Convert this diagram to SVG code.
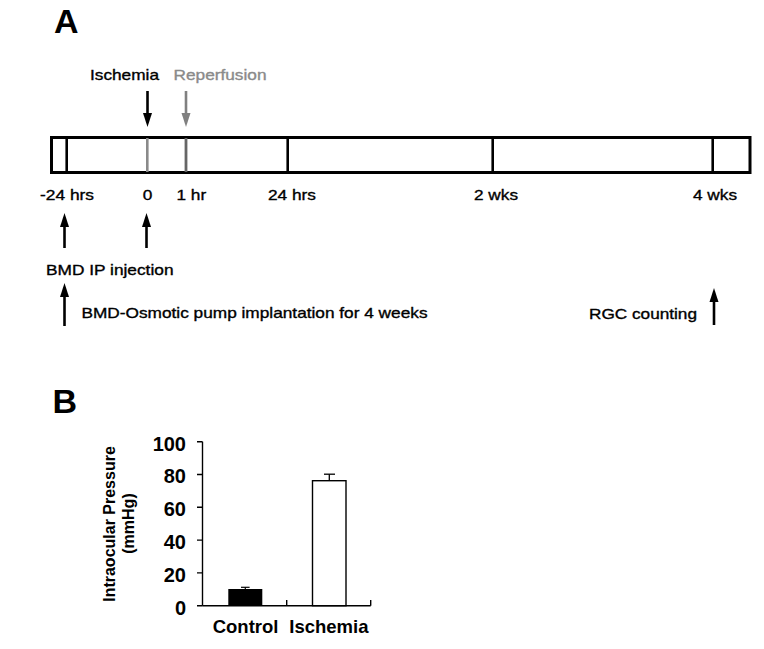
<svg xmlns="http://www.w3.org/2000/svg" width="764" height="649" viewBox="0 0 764 649">
<style>
text{font-family:"Liberation Sans",Arial,sans-serif;fill:#000}
.lbl{font-size:15px;stroke:#000;stroke-width:0.35}
.gray{fill:#8a8a8a;stroke:#8a8a8a}
.bold{font-weight:bold}
.tick{font-size:20px;font-weight:bold;text-anchor:end}
.ax{stroke:#000;stroke-width:1.4;fill:none}
.tl{stroke:#000;stroke-width:2.6}
.shaft{stroke:#000;stroke-width:2.6}
</style>
<defs>
<polygon id="headDown" points="-4.5,0 4.5,0 0,14"/>
<polygon id="headUp" points="-4.5,0 4.5,0 0,-14"/>
</defs>
<rect width="764" height="649" fill="#fff"/>

<g id="panelA">
<text class="bold" x="54" y="33" font-size="34">A</text>

<g id="timeline">
<rect x="51.5" y="137.5" width="698.5" height="35" fill="#fff" stroke="#000" stroke-width="3"/>
<line class="tl" x1="66.7" y1="138" x2="66.7" y2="172"/>
<line x1="147.3" y1="138" x2="147.3" y2="172" stroke="#8a8a8a" stroke-width="2.6"/>
<line x1="186" y1="138" x2="186" y2="172" stroke="#666" stroke-width="2.8"/>
<line class="tl" x1="287.7" y1="138" x2="287.7" y2="172"/>
<line class="tl" x1="492.7" y1="138" x2="492.7" y2="172"/>
<line class="tl" x1="712.7" y1="138" x2="712.7" y2="172"/>
</g>

<g id="time-labels" class="lbl">
<text x="40" y="200" textLength="54" lengthAdjust="spacingAndGlyphs">-24 hrs</text>
<text x="142.7" y="200" textLength="9.6" lengthAdjust="spacingAndGlyphs">0</text>
<text x="176.5" y="200" textLength="29.7" lengthAdjust="spacingAndGlyphs">1 hr</text>
<text x="268" y="200" textLength="48" lengthAdjust="spacingAndGlyphs">24 hrs</text>
<text x="474" y="200" textLength="44" lengthAdjust="spacingAndGlyphs">2 wks</text>
<text x="693" y="200" textLength="44" lengthAdjust="spacingAndGlyphs">4 wks</text>
</g>

<g id="ischemia">
<text class="lbl" x="90" y="80" textLength="69" lengthAdjust="spacingAndGlyphs">Ischemia</text>
</g>
<g id="reperfusion">
<text class="lbl gray" x="173.5" y="80" textLength="93" lengthAdjust="spacingAndGlyphs">Reperfusion</text>
</g>
<g id="bmd-ip">
<text class="lbl" x="46" y="275" textLength="127.5" lengthAdjust="spacingAndGlyphs">BMD IP injection</text>
</g>
<g id="bmd-pump">
<text class="lbl" x="81.5" y="318" textLength="346" lengthAdjust="spacingAndGlyphs">BMD-Osmotic pump implantation for 4 weeks</text>
</g>
<g id="rgc">
<text class="lbl" x="589" y="318.5" textLength="108" lengthAdjust="spacingAndGlyphs">RGC counting</text>
</g>

<g id="connectors">
<line class="shaft" x1="147.5" y1="91" x2="147.5" y2="115"/>
<use href="#headDown" x="147.5" y="113" fill="#000"/>
<line x1="186" y1="91" x2="186" y2="115" stroke="#808080" stroke-width="2.6"/>
<use href="#headDown" x="186" y="113" fill="#808080"/>
<line class="shaft" x1="64.5" y1="225" x2="64.5" y2="248"/>
<use href="#headUp" x="64.5" y="227" fill="#000"/>
<line class="shaft" x1="146.5" y1="225" x2="146.5" y2="248"/>
<use href="#headUp" x="146.5" y="227" fill="#000"/>
<line class="shaft" x1="64.5" y1="295" x2="64.5" y2="326"/>
<use href="#headUp" x="64.5" y="297" fill="#000"/>
<line class="shaft" x1="714" y1="300" x2="714" y2="325"/>
<use href="#headUp" x="714" y="302" fill="#000"/>
</g>
</g>

<g id="panelB">
<text class="bold" x="52.5" y="412.7" font-size="34">B</text>

<g id="axes">
<line class="ax" x1="202.5" y1="441.7" x2="202.5" y2="605.7"/>
<line class="ax" x1="202.5" y1="605.7" x2="370.7" y2="605.7"/>
<path class="ax" d="M197,441.7H202.5M197,474.5H202.5M197,507.3H202.5M197,540.1H202.5M197,572.9H202.5M197,605.7H202.5M286.7,600V605.7M370.7,600V605.7"/>
</g>

<g id="tick-labels">
<text class="tick" x="186" y="450.5">100</text>
<text class="tick" x="186" y="483.3">80</text>
<text class="tick" x="186" y="516.1">60</text>
<text class="tick" x="186" y="548.9">40</text>
<text class="tick" x="186" y="581.7">20</text>
<text class="tick" x="186" y="614.5">0</text>
</g>

<g id="y-title" class="bold" font-size="16" text-anchor="middle">
<text transform="translate(115,524) rotate(-90)">Intraocular Pressure</text>
<text transform="translate(134,523.5) rotate(-90)">(mmHg)</text>
</g>

<g id="bar-control">
<rect x="228.3" y="589" width="34" height="16.7" fill="#000"/>
<line x1="245.3" y1="589" x2="245.3" y2="587.3" stroke="#000" stroke-width="1.2"/>
<line x1="241" y1="587.3" x2="249.6" y2="587.3" stroke="#000" stroke-width="1.2"/>
</g>
<g id="bar-ischemia">
<rect x="312.5" y="480.7" width="33.5" height="125" fill="#fff" stroke="#000" stroke-width="1.4"/>
<line x1="329.3" y1="480.7" x2="329.3" y2="474.2" stroke="#000" stroke-width="1.3"/>
<line x1="324" y1="474.2" x2="335" y2="474.2" stroke="#000" stroke-width="1.3"/>
</g>

<g id="category-labels" class="bold" font-size="18.5">
<text x="212.7" y="633">Control</text>
<text x="289.3" y="633">Ischemia</text>
</g>
</g>
</svg>
